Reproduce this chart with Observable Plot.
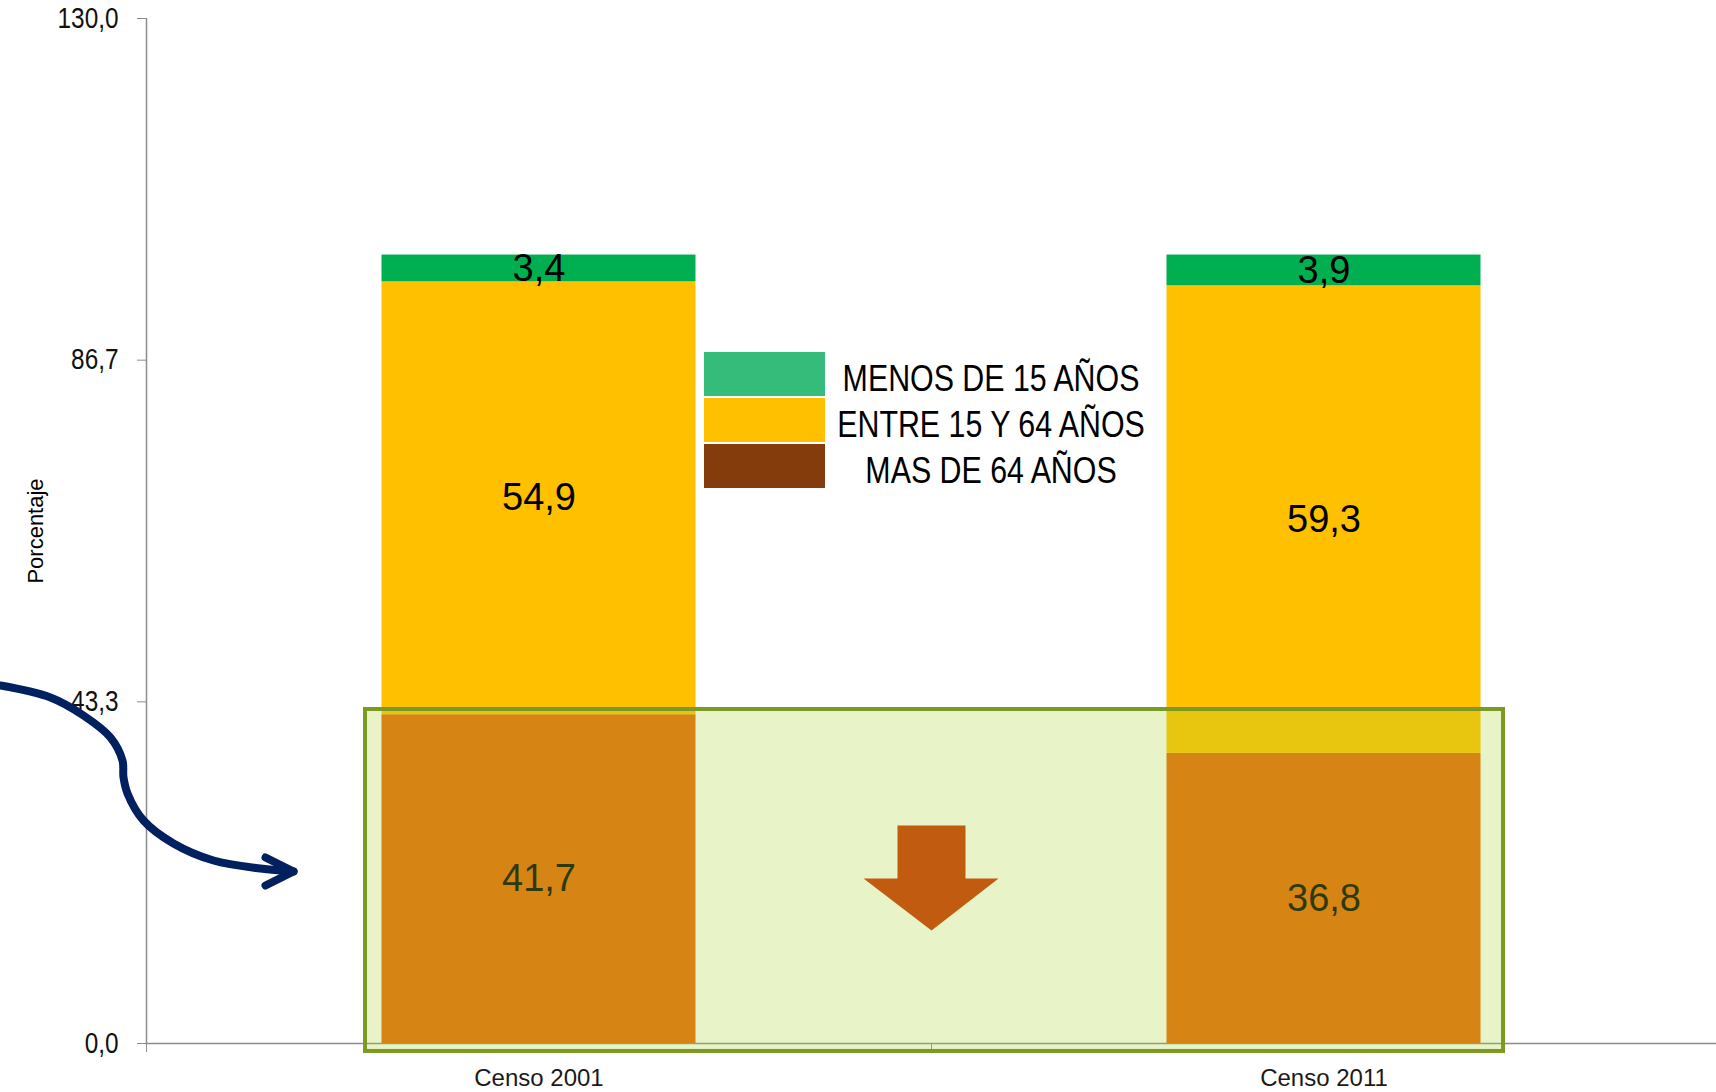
<!DOCTYPE html>
<html>
<head>
<meta charset="utf-8">
<script src="https://cdn.jsdelivr.net/npm/d3@7"></script>
<script src="https://cdn.jsdelivr.net/npm/@observablehq/plot@0.6"></script>
<style>
  html, body { margin: 0; padding: 0; background: #fff; }
  #wrap { position: relative; width: 1716px; height: 1092px; overflow: hidden; }
  #legend { position: absolute; left: 704px; top: 352px; width: 500px; height: 140px; }
  .row { position: absolute; left: 0; width: 500px; height: 44px; }
  .sw { position: absolute; left: 0; top: 0; width: 121px; height: 44px; }
  .lab { position: absolute; left: 87px; width: 400px; top: 5px; height: 44px; line-height: 44px;
         text-align: center; font-size: 37px; color: #000; white-space: nowrap;
         font-family: "Liberation Sans", Arial, sans-serif;
         transform: scaleX(0.82); transform-origin: center center; }
</style>
</head>
<body>
<div id="wrap"><div id="legend"></div></div>
<script>
// ---- data ----
const categories = ["Censo 2001", "Censo 2011"];
const groups = ["MAS DE 64 AÑOS", "ENTRE 15 Y 64 AÑOS", "MENOS DE 15 AÑOS"]; // bottom -> top
const mas64 = [41.7, 36.8];
const entre15y64 = [54.9, 59.3];
const menos15 = [3.4, 3.9];
const yMax = 130;
const yTicks = [0, 130 / 3, 260 / 3, 130];
const legendOrder = ["MENOS DE 15 AÑOS", "ENTRE 15 Y 64 AÑOS", "MAS DE 64 AÑOS"];

// ---- styling ----
const barColors = ["#E66708", "#FFC000", "#00B050"];
const legendColors = {"MENOS DE 15 AÑOS": "#35BC7B", "ENTRE 15 Y 64 AÑOS": "#FFC000", "MAS DE 64 AÑOS": "#843C0C"};
const regular = '"Liberation Sans", Arial, sans-serif';
const fmt = v => v.toFixed(1).replace(".", ",");

// build stacked table
const series = [mas64, entre15y64, menos15];
const rows = [];
categories.forEach((c, i) => {
  let acc = 0;
  series.forEach((s, g) => {
    rows.push({i, cat: c, group: groups[g], value: s[i], y1: acc, y2: acc + s[i]});
    acc += s[i];
  });
});

// annotations (data units)
const box = [{x1: 0.279, x2: 1.7287, y1: -1.01, y2: 42.36}];
const downArrow = [
  {x: 0.9567, y: 27.65}, {x: 1.0433, y: 27.65}, {x: 1.0433, y: 20.93}, {x: 1.0854, y: 20.93},
  {x: 1.0, y: 14.33}, {x: 0.9134, y: 20.93}, {x: 0.9567, y: 20.93}, {x: 0.9567, y: 27.65}
];
const curvePts = [
  {x: -0.186, y: 45.40}, {x: -0.1223, y: 43.88}, {x: -0.0803, y: 41.60}, {x: -0.0459, y: 38.81},
  {x: -0.0306, y: 35.89}, {x: -0.0293, y: 33.74}, {x: -0.0242, y: 31.71}, {x: -0.0038, y: 28.28},
  {x: 0.0344, y: 25.37}, {x: 0.0854, y: 23.21}, {x: 0.1452, y: 22.19}, {x: 0.1873, y: 21.81}
];
const chevron = [{x: 0.1516, y: 23.59}, {x: 0.1873, y: 21.81}, {x: 0.1516, y: 20.04}];

const chart = Plot.plot({
  width: 1716,
  height: 1092,
  marginLeft: 146,
  marginRight: 0,
  marginTop: 18,
  marginBottom: 49,
  x: {domain: [0, categories.length]},
  y: {domain: [0, yMax]},
  color: {domain: groups, range: barColors},
  style: {background: "transparent", overflow: "visible", fontFamily: regular},
  marks: [
    Plot.axisY({ticks: yTicks, tickFormat: fmt, tickSize: 9, tickPadding: 19, fontSize: 29,
                stroke: "#8c8c8c", color: "#111", label: null}),
    Plot.axisX({ticks: d3.range(categories.length + 1), tickSize: 9, tickFormat: () => "",
                stroke: "#8c8c8c", label: null}),
    Plot.axisX({ticks: categories.map((c, i) => i + 0.5), tickSize: 0, tickPadding: 25,
                tickFormat: v => categories[Math.floor(v)], fontSize: 24, color: "#1a1a1a", label: null}),
    Plot.ruleX([0], {y1: 0, y2: yMax, stroke: "#8c8c8c", strokeWidth: 1.5}),
    Plot.ruleY([0], {stroke: "#8c8c8c", strokeWidth: 1.5}),
    Plot.rect(rows, {x1: d => d.i + 0.3, x2: d => d.i + 0.7, y1: "y1", y2: "y2", fill: "group"}),
    Plot.text(rows, {x: d => d.i + 0.5, y: d => (d.y1 + d.y2) / 2, text: d => fmt(d.value),
                     fontSize: 38, fill: "#000", ariaLabel: "barlabel"}),
    Plot.rect(box, {x1: "x1", x2: "x2", y1: "y1", y2: "y2", fill: "#AAD334", fillOpacity: 0.27,
                    stroke: "#7A9A22", strokeWidth: 4}),
    Plot.line(downArrow, {x: "x", y: "y", fill: "#C15B0F", stroke: "none"}),
    Plot.line(curvePts, {x: "x", y: "y", curve: "catmull-rom", stroke: "#002060", strokeWidth: 8,
                         strokeLinecap: "round"}),
    Plot.line(chevron, {x: "x", y: "y", stroke: "#002060", strokeWidth: 8, strokeLinecap: "round",
                        strokeLinejoin: "round"}),
    Plot.text(["Porcentaje"], {x: -0.1414, y: yMax / 2, text: d => d, rotate: -90, fontSize: 22,
                               fill: "#000"})
  ]
});

document.getElementById("wrap").prepend(chart);

// condense selected texts horizontally (Arial Narrow look), about their anchor point
function condense(sel, s, anchor) {
  chart.querySelectorAll(sel).forEach(t => {
    const b = t.getBBox();
    const ax = anchor === "end" ? b.x + b.width : b.x + b.width / 2;
    const ay = b.y + b.height / 2;
    const tr = t.getAttribute("transform") || "";
    t.setAttribute("transform", `${tr} translate(${ax},${ay}) scale(${s},1) translate(${-ax},${-ay})`);
  });
}
condense('g[aria-label="y-axis tick label"] text', 0.84, "end");
condense('g[aria-label="barlabel"] text', 0.78, "middle");

// legend
const legend = document.getElementById("legend");
legendOrder.forEach((g, k) => {
  const row = document.createElement("div");
  row.className = "row";
  row.style.top = (k * 46) + "px";
  const sw = document.createElement("div");
  sw.className = "sw";
  sw.style.background = legendColors[g];
  const lab = document.createElement("div");
  lab.className = "lab";
  lab.textContent = g;
  row.append(sw, lab);
  legend.append(row);
});
</script>
</body>
</html>
